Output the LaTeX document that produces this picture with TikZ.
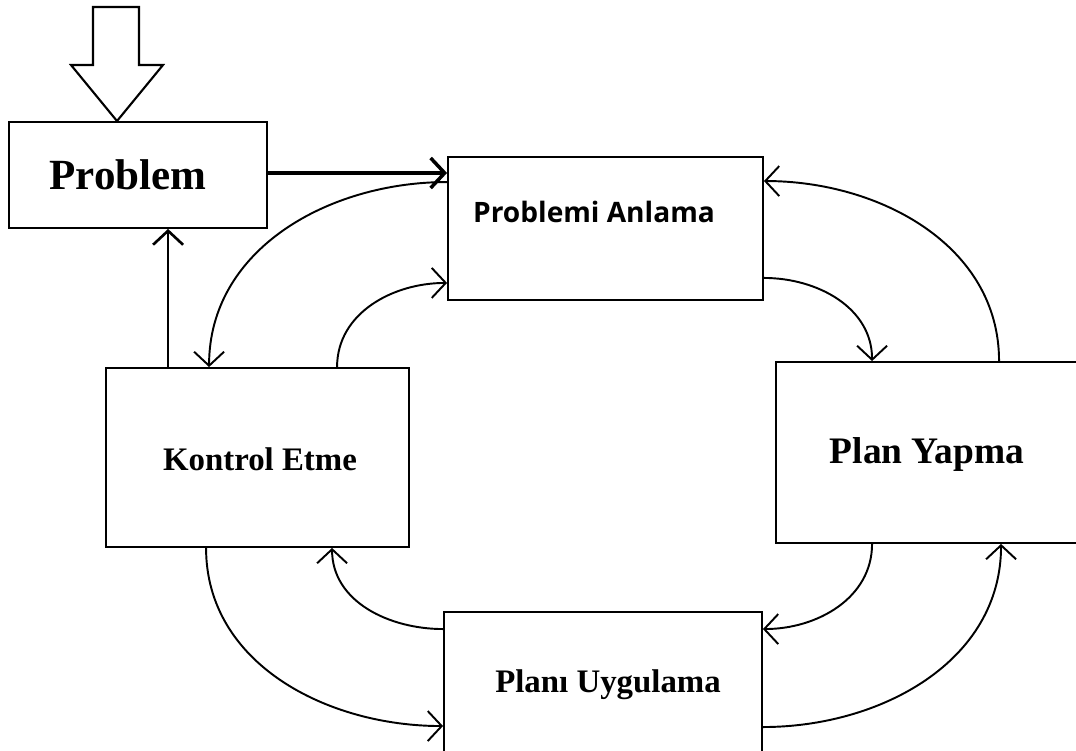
\documentclass[tikz,border=0pt]{standalone}
\usepackage{fontspec}
\setmainfont{Liberation Serif}
\newfontfamily\anlafont{Open Sans}
\usetikzlibrary{arrows.meta}

\begin{document}
\begin{tikzpicture}[x=0.02cm, y=0.02cm,
  box/.style={draw, line width=1.1pt, inner sep=0pt},
  txt/.style={font=\bfseries, text depth=0pt, inner sep=0pt},
  arr/.style={line width=1.1pt, -{Straight Barb[length=0.28cm, width=0.6cm]}}]
\useasboundingbox (0,0) rectangle (1076,751);
\clip (0,0) rectangle (1076,751);
% boxes
\node[box, minimum width=5.16cm, minimum height=2.12cm] (prob) at (138,576) {};
\node[box, minimum width=6.3cm, minimum height=2.86cm] (anla) at (605.5,522.5) {};
\node[box, minimum width=6.04cm, minimum height=3.62cm] (plan) at (927,298.5) {};
\node[box, minimum width=6.06cm, minimum height=3.58cm] (kont) at (257.5,293.5) {};
\node[box, minimum width=6.36cm, minimum height=2.8cm] (uyg) at (603,69) {};
\node[txt, font=\bfseries\fontsize{24.5}{28}\selectfont] (probT) at (128,576) {Problem};
\node[txt, font=\anlafont\bfseries\fontsize{16}{19}\selectfont] (anlaT) at (594,539) {Problemi Anlama};
\node[txt, font=\bfseries\fontsize{21.3}{25}\selectfont] (planT) at (927,300) {Plan Yapma};
\node[txt, font=\bfseries\fontsize{18.7}{22}\selectfont] (kontT) at (260,292) {Kontrol Etme};
\node[txt, font=\bfseries\fontsize{18.7}{22}\selectfont] (uygT) at (608,70) {Planı Uygulama};
% hollow input arrow
\draw[line width=1.2pt, fill=white] (93,744) -- (139,744) -- (139,686) -- (163,686)
  -- (prob.north -| 117,0) -- (71,686) -- (93,686) -- cycle;
% points on the borders
\path (anla.north west) ++(0,-26) coordinate (aW1)
      (anla.south west) ++(0,18)  coordinate (aW2)
      (anla.north east) ++(0,-25) coordinate (aE1)
      (anla.south east) ++(0,23)  coordinate (aE2)
      (plan.north west) ++(97,0)  coordinate (pN1)
      (plan.north west) ++(224,0) coordinate (pN2)
      (plan.south west) ++(97,0)  coordinate (pS1)
      (plan.south west) ++(226,0) coordinate (pS2)
      (uyg.north east)  ++(0,-18) coordinate (uE1)
      (uyg.north east)  ++(0,-116) coordinate (uE2)
      (uyg.north west)  ++(0,-18) coordinate (uW1)
      (uyg.north west)  ++(0,-115) coordinate (uW2)
      (kont.south west) ++(101,0) coordinate (kS1)
      (kont.south west) ++(227,0) coordinate (kS2)
      (kont.north west) ++(63,0)  coordinate (kN0)
      (kont.north west) ++(104,0) coordinate (kN1)
      (kont.north west) ++(232,0) coordinate (kN2);
% connectors
\draw[arr, line width=2pt] ([yshift=0.04cm]prob.east) -- ([yshift=0.04cm]prob.east -| anla.west);
\draw[arr, line width=1.5pt] (kN0) -- (kN0 |- prob.south);
\draw[arr] (aW1) to[out=180, in=90] (kN1);
\draw[arr] (kN2) to[out=90, in=180] (aW2);
\draw[arr] (aE2) to[out=0, in=90] (pN1);
\draw[arr] (pN2) to[out=90, in=0] (aE1);
\draw[arr] (pS1) to[out=-90, in=0] (uE1);
\draw[arr] (uE2) to[out=0, in=-90] (pS2);
\draw[arr] (uW1) to[out=180, in=-90] (kS2);
\draw[arr] (kS1) to[out=-90, in=180] (uW2);
\end{tikzpicture}
\end{document}
